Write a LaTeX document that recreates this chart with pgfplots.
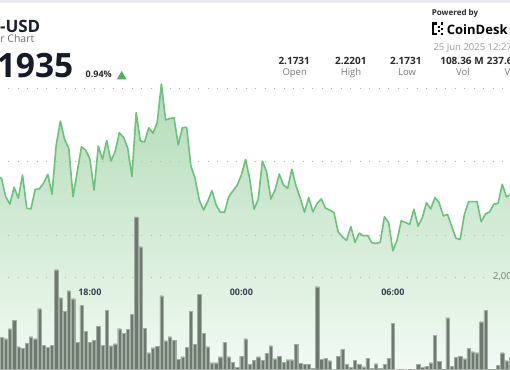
\documentclass[border=0pt]{standalone}
\usepackage{pgfplots}
\pgfplotsset{compat=1.18}
\usepackage{pgfplotstable}
\usepackage{fontspec}
\setmainfont{Open Sans}
\definecolor{linegreen}{HTML}{6CC27C}
\definecolor{areatop}{HTML}{B3DCB8}
\definecolor{areabot}{HTML}{F2FAF3}
\definecolor{volfill}{HTML}{6D796C}
\definecolor{voledge}{HTML}{A2ACA2}
\definecolor{griddot}{HTML}{B4B4B4}
\definecolor{navy}{HTML}{1B2133}
\definecolor{bigdark}{HTML}{141A28}
\definecolor{subgray}{HTML}{6F6F6F}
\definecolor{valdark}{HTML}{2A2A2A}
\definecolor{labgray}{HTML}{7A7A7A}
\definecolor{dategray}{HTML}{9C9C9C}
\definecolor{tickdark}{HTML}{3B4050}
\definecolor{upgreen}{HTML}{4CB35B}
\definecolor{topband}{HTML}{EBE9F1}

\pgfplotstableread{
k p
-1 2.1960
0 2.1954
1 2.1904
2 2.1884
3 2.1930
4 2.1900
5 2.1963
6 2.1873
7 2.1871
8 2.1924
9 2.1926
10 2.1941
11 2.1965
12 2.1911
13 2.2045
14 2.2110
15 2.2060
16 2.2036
17 2.1904
18 2.1972
19 2.2040
20 2.2031
21 2.2007
22 2.1922
23 2.2042
24 2.2006
25 2.2057
26 2.2001
27 2.2027
28 2.2078
29 2.2066
30 2.2036
31 2.1959
32 2.2133
33 2.2056
34 2.2053
35 2.2092
36 2.2077
37 2.2106
38 2.2211
39 2.2113
40 2.2117
41 2.2119
42 2.2045
43 2.2092
44 2.2093
45 2.1988
46 2.1954
47 2.1895
48 2.1868
49 2.1891
50 2.1921
51 2.1882
52 2.1862
53 2.1862
54 2.1904
55 2.1920
56 2.1935
57 2.1963
58 2.2006
59 2.1951
60 2.1870
61 2.1897
62 2.2001
63 2.1972
64 2.1898
65 2.1922
66 2.1966
67 2.1936
68 2.1927
69 2.1979
70 2.1933
71 2.1900
72 2.1862
73 2.1902
74 2.1863
75 2.1886
76 2.1898
77 2.1873
78 2.1868
79 2.1861
80 2.1809
81 2.1795
82 2.1785
83 2.1823
84 2.1780
85 2.1805
86 2.1798
87 2.1799
88 2.1779
89 2.1777
90 2.1780
91 2.1850
92 2.1834
93 2.1757
94 2.1786
95 2.1839
96 2.1834
97 2.1829
98 2.1870
99 2.1824
100 2.1847
101 2.1888
102 2.1871
103 2.1902
104 2.1888
105 2.1852
106 2.1856
107 2.1823
108 2.1791
109 2.1788
110 2.1856
111 2.1891
112 2.1891
113 2.1891
114 2.1836
115 2.1857
116 2.1863
117 2.1884
118 2.1886
119 2.1938
120 2.1904
121 2.1911
122 2.1915
}\pricetable

\pgfplotstableread{
b v
-1 61
0 32.7
1 31.3
2 41.3
3 49.7
4 23.3
5 21.7
6 26.7
7 33.3
8 31.3
9 61.3
10 25
11 22.7
12 25
13 100.3
14 72.3
15 58.7
16 79.3
17 71.3
18 28
19 64.7
20 39
21 28
22 29.7
23 44
24 24.7
25 59.7
26 24.3
27 26.3
28 41.3
29 37
30 40.7
31 56
32 153
33 123.3
34 41.7
35 17.3
36 22.3
37 24
38 74.3
39 29.3
40 33.3
41 30
42 11
43 13.3
44 22.7
45 59
46 26
47 75.7
48 36.7
49 23.3
50 7.3
51 7.3
52 13.3
53 27.7
54 13.3
55 7.7
56 2.7
57 14
58 31.3
59 5.7
60 10
61 13.3
62 10
63 16.7
64 24.3
65 11.3
66 14
67 8
68 10.3
69 10.3
70 25.7
71 6.7
72 6
73 6
74 1.5
75 83.3
76 11
77 12
78 9.3
79 1
80 14
81 20.7
82 5.7
83 3
84 10
85 5.7
86 3.3
87 11.7
88 1.7
89 6.3
90 1.7
91 6
92 11.7
93 46.7
94 1
95 0.5
96 1
97 0.5
98 1
99 6
100 2.7
101 4
102 7.3
103 35
104 9
105 0.7
106 52.3
107 4
108 12.7
109 14
110 11.3
111 21.7
112 18.3
113 17.3
114 48.3
115 60
116 0.7
117 0.5
118 5
119 17.3
120 9.3
121 12.3
}\voltable

\pgfplotsset{
  chartbase/.style={
    at={(0pt,0pt)}, anchor=south west, scale only axis,
    width=510pt, height=369pt,
    xmin=-0.3565, xmax=120.84,
    enlargelimits=false, clip=true,
    axis line style={draw=none}, tick style={draw=none},
  },
  dotgrid/.style={dash pattern=on 1pt off 8.5pt, dash phase=1.2pt, line width=0.9pt, color=griddot},
}

\begin{document}
\begin{tikzpicture}[x=1pt,y=1pt]
\clip (0,0) rectangle (510,369);
\fill[white] (0,0) rectangle (510,369);

% price area with price grid on top
\begin{axis}[chartbase,
  ymin=2.14354, ymax=2.24395,
  axis on top,
  ytick={2.18,2.20,2.22}, yticklabels={},
  ymajorgrids, major grid style={dotgrid},
  xtick={21,57,93}, xticklabels={18:00,00:00,06:00},
  xticklabel style={font=\bfseries\fontsize{9}{10}\selectfont, text=tickdark, anchor=center, yshift=77pt},
]
\addplot[draw=none, top color=areatop, bottom color=areabot]
  table[x=k,y=p]{\pricetable} -- (axis cs:122,2.14354) -- (axis cs:-1,2.14354) -- cycle;
\end{axis}

% volume bars
\begin{axis}[chartbase,
  ymin=1, ymax=370,
  xtick=\empty,
  ytick={93}, yticklabels={2{,}000},
  ymajorgrids, major grid style={dotgrid},
  yticklabel pos=right,
  yticklabel style={anchor=west, xshift=-17pt, inner sep=0pt, font=\fontsize{9.5}{10}\selectfont, text=labgray},
  ybar, bar width=3.3pt,
]
\addplot[fill=volfill, draw=voledge, line width=0.35pt] table[x=b,y=v]{\voltable};
\end{axis}

% price line
\begin{axis}[chartbase, hide axis, ymin=2.14354, ymax=2.24395]
\addplot[linegreen, line width=1.6pt, line join=round] table[x=k,y=p]{\pricetable};
\end{axis}

% header
\fill[topband] (0,366) rectangle (510,369);
\node[anchor=base east, inner sep=0pt, font=\bfseries\fontsize{17}{17}\selectfont, text=navy] at (40.5,336.7) {XRP-USD};
\node[anchor=base east, inner sep=0pt, font=\fontsize{10.5}{11}\selectfont, text=subgray] at (34.5,326.3) {24 Hour Chart};
\node[anchor=base east, inner sep=0pt, font=\bfseries\fontsize{33.5}{34}\selectfont, text=bigdark] at (73.5,291.7) {2.1935};
\node[anchor=base west, inner sep=0pt, font=\bfseries\fontsize{9}{9}\selectfont, text=valdark] at (85.5,291.7) {0.94\%};
\fill[upgreen] (116.7,289.5) -- (126.7,289.5) -- (121.7,298) -- cycle;

\node[anchor=base west, inner sep=0pt, font=\bfseries\fontsize{8}{8}\selectfont, text=valdark] at (431.7,353.5) {Powered by};
% logo mark
\fill[black] (432,334) rectangle (434.3,346.5);
\fill[black] (432,344.2) rectangle (437,346.5);
\fill[black] (432,334) rectangle (437,336.3);
\fill[black] (438.3,340.8) rectangle (440.3,342.8);
\fill[black] (438.3,337.2) rectangle (440.3,339.2);
\fill[black] (441.2,344.2) rectangle (443.4,346.5);
\fill[black] (441.2,334) rectangle (443.4,336.3);
\fill[black] (441.2,339.1) rectangle (443.4,341.4);
\node[anchor=base west, inner sep=0pt, font=\bfseries\fontsize{13}{13}\selectfont, text=black] at (446.7,334.7) {CoinDesk Indices};
\node[anchor=base west, inner sep=0pt, font=\fontsize{9.5}{10}\selectfont, text=dategray] at (433.3,318.3) {25 Jun 2025 12:27 UTC};

\foreach \cx/\val in {294.2/2.1731, 350.8/2.2201, 405.8/2.1731, 462/108.36 M}
  \node[anchor=base, inner sep=0pt, font=\bfseries\fontsize{10}{10}\selectfont, text=valdark] at (\cx,304.7) {\val};
\node[anchor=base west, inner sep=0pt, font=\bfseries\fontsize{10}{10}\selectfont, text=valdark] at (486.7,304.7) {237.65 M};
\foreach \cx/\lab in {294.7/Open, 351/High, 407/Low, 463/Vol}
  \node[anchor=base, inner sep=0pt, font=\fontsize{9.5}{10}\selectfont, text=labgray] at (\cx,293.8) {\lab};
\node[anchor=base west, inner sep=0pt, font=\fontsize{9.5}{10}\selectfont, text=labgray] at (504.5,293.8) {Value};
\end{tikzpicture}
\end{document}
